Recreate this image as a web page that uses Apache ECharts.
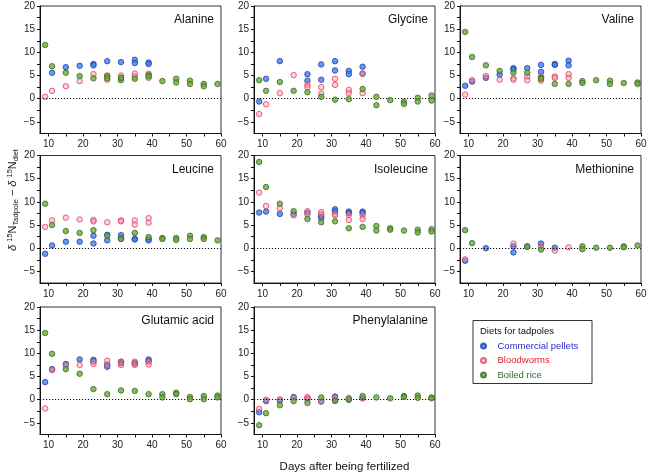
<!DOCTYPE html>
<html><head><meta charset="utf-8">
<script src="https://cdn.jsdelivr.net/npm/echarts@6/dist/echarts.min.js"></script>
<style>html,body{margin:0;padding:0;background:#fff}#c{width:650px;height:475px}</style>
</head><body><div id="c"></div>
<script>
// ---- data: [day, δ15N(tadpole) − δ15N(diet)] ----
const panelNames = ['Alanine','Glycine','Valine','Leucine','Isoleucine','Methionine','Glutamic acid','Phenylalanine'];
const dietNames = ['Commercial pellets','Bloodworms','Boiled rice'];
const xTickLabels = [10,20,30,40,50,60];
const yTickLabels = [-5,0,5,10,15,20];

const alaninePellets = [[11,5.6],[15,6.8],[19,7.1],[23,7.5],[23,7.2],[27,8.1],[31,7.9],[35,8.4],[35,7.7],[39,7.8],[39,7.5]];
const alanineBlood = [[9,0.4],[11,1.7],[15,2.7],[19,3.8],[23,5.3],[27,5.0],[27,4.1],[31,5.0],[31,4.5],[35,5.4],[35,4.8],[39,5.4],[39,4.5]];
const alanineRice = [[9,11.6],[11,7.0],[15,5.6],[19,4.9],[23,4.4],[27,4.9],[27,4.4],[31,4.0],[31,4.5],[35,4.3],[39,5.1],[39,4.8],[43,3.8],[47,4.3],[47,3.5],[51,3.9],[51,3.2],[55,3.2],[55,2.7],[59,3.2]];

const glycinePellets = [[9,-0.6],[11,4.3],[15,8.1],[23,5.3],[23,3.9],[27,7.4],[27,4.1],[31,8.1],[31,6.1],[35,6.0],[35,5.3],[39,6.9],[39,5.4]];
const glycineBlood = [[9,-3.3],[11,-1.2],[15,1.2],[19,5.1],[23,3.0],[23,2.5],[27,2.5],[27,1.1],[31,4.3],[31,3.0],[35,1.9],[35,1.2],[39,5.4],[39,1.2]];
const glycineRice = [[9,4.0],[11,1.7],[15,3.6],[19,1.7],[23,1.4],[27,0.4],[31,-0.2],[35,-0.1],[39,2.1],[43,0.4],[43,-1.4],[47,-0.3],[51,-0.6],[51,-1.1],[55,0.2],[55,-0.6],[59,0.7],[59,-0.4]];

const valinePellets = [[9,2.8],[11,3.7],[15,4.5],[19,5.2],[23,6.6],[23,6.3],[27,6.6],[31,7.3],[31,5.8],[35,7.5],[35,7.3],[39,8.2],[39,7.2]];
const valineBlood = [[9,0.9],[11,4.0],[15,4.9],[19,4.1],[23,4.4],[23,4.1],[27,4.8],[27,4.0],[31,4.8],[31,3.9],[35,4.8],[35,4.5],[39,5.3],[39,4.5]];
const valineRice = [[9,14.4],[11,9.0],[15,7.2],[19,6.0],[23,5.6],[27,5.6],[31,4.5],[31,4.3],[35,3.2],[39,3.2],[43,3.8],[43,3.4],[47,4.0],[51,3.9],[51,3.2],[55,3.4],[59,3.5],[59,3.2]];

const leucinePellets = [[9,-1.2],[11,0.6],[15,1.4],[19,1.4],[23,2.7],[23,1.0],[27,2.9],[27,1.7],[31,2.8],[31,2.1],[35,2.0],[35,1.9],[39,1.9],[39,1.7]];
const leucineBlood = [[9,4.6],[11,6.0],[15,6.6],[19,6.2],[23,6.1],[23,5.8],[27,5.6],[31,6.0],[31,5.8],[35,6.0],[35,5.1],[39,6.5],[39,5.5]];
const leucineRice = [[9,9.6],[11,5.0],[15,3.7],[19,3.3],[23,3.9],[27,2.7],[31,2.0],[35,3.3],[39,2.4],[43,2.2],[43,2.0],[47,2.2],[47,1.8],[51,2.7],[51,2.0],[55,2.4],[55,2.0],[59,1.7]];

const isoleucinePellets = [[9,7.7],[11,7.9],[15,7.4],[19,7.4],[23,7.7],[27,6.9],[27,6.5],[31,8.4],[31,7.9],[35,7.9],[35,7.6],[39,7.9],[39,7.6]];
const isoleucineBlood = [[9,12.0],[11,9.1],[15,8.6],[19,7.1],[23,8.0],[23,7.3],[27,7.8],[27,7.3],[31,7.4],[31,7.1],[35,7.2],[35,6.1],[39,7.1],[39,6.3]];
const isoleucineRice = [[9,18.6],[11,13.2],[15,9.6],[19,8.0],[23,6.3],[27,5.6],[31,5.8],[35,4.3],[39,4.6],[43,4.8],[43,3.8],[47,4.3],[47,4.0],[51,3.8],[55,4.0],[55,3.4],[59,4.1],[59,3.6]];

const methioninePellets = [[9,-2.7],[15,0.0],[23,0.4],[23,-0.9],[27,0.4],[31,1.0],[35,0.1]];
const methionineBlood = [[9,-2.4],[23,1.0],[31,0.3],[35,-0.5],[39,0.2]];
const methionineRice = [[9,3.9],[11,1.1],[27,0.3],[31,-0.3],[43,0.4],[43,-0.2],[47,0.1],[51,0.1],[55,0.4],[55,0.2],[59,0.6]];

const glutamicPellets = [[9,3.8],[11,6.6],[15,7.7],[19,8.7],[23,8.6],[23,8.3],[27,7.6],[27,7.1],[31,8.2],[31,7.9],[35,8.0],[35,7.8],[39,8.7],[39,8.3]];
const glutamicBlood = [[9,-1.9],[11,6.4],[15,7.4],[19,7.5],[23,8.2],[23,7.7],[27,8.4],[27,7.4],[31,8.2],[31,7.5],[35,8.2],[35,7.5],[39,8.2],[39,7.6]];
const glutamicRice = [[9,14.4],[11,9.9],[15,6.6],[19,5.6],[23,2.3],[27,1.2],[31,2.0],[35,1.9],[39,1.2],[43,1.2],[43,0.5],[47,1.5],[47,1.2],[51,0.6],[51,0.1],[55,0.8],[55,0.1],[59,0.9],[59,0.5]];

const phenylalaninePellets = [[9,-2.7],[11,-0.3],[15,-0.2],[19,0.6],[23,0.2],[27,-0.4],[31,0.7],[31,-0.2],[35,0.0],[39,0.4]];
const phenylalanineBlood = [[9,-2.0],[11,0.0],[15,0.1],[19,0.4],[23,0.6],[23,0.2],[27,-0.3],[31,0.4],[35,0.4],[39,0.3]];
const phenylalanineRice = [[9,-5.5],[11,-2.9],[15,-1.2],[19,-0.3],[23,-0.7],[27,0.5],[31,-0.2],[35,0.1],[39,0.8],[43,0.5],[47,0.3],[51,0.8],[51,0.6],[55,0.9],[55,0.4],[59,0.5],[59,0.3]];

const panelData = [
  [alaninePellets, alanineBlood, alanineRice],
  [glycinePellets, glycineBlood, glycineRice],
  [valinePellets, valineBlood, valineRice],
  [leucinePellets, leucineBlood, leucineRice],
  [isoleucinePellets, isoleucineBlood, isoleucineRice],
  [methioninePellets, methionineBlood, methionineRice],
  [glutamicPellets, glutamicBlood, glutamicRice],
  [phenylalaninePellets, phenylalanineBlood, phenylalanineRice]
];

// ---- styling / layout ----
const FONT = '"Liberation Sans", Arial, Helvetica, sans-serif';
const colLeft = [40, 254, 460];
const rowTop = [6, 155.5, 307];
const gW = 181, gH = 127.5;
const markerStyles = [
  {color:'#3f7ff0', borderColor:'#1d3fa8', borderWidth:1},
  {color:'rgba(246,150,170,0.55)', borderColor:'#e2405e', borderWidth:1},
  {color:'#6aa83e', borderColor:'#3b6b1c', borderWidth:1}
];
const legendTextColors = ['#2a2ad2','#e01e2e','#2f6a2a'];

const grids=[], xAxes=[], yAxes=[], series=[], titles=[];
const minus = v => v < 0 ? '\u2212' + Math.abs(v) : String(v);
panelNames.forEach((name, i) => {
  const r = Math.floor(i/3), c = i%3;
  grids.push({left: colLeft[c], top: rowTop[r], width: gW, height: gH, show:true, borderColor:'#333', borderWidth:1, containLabel:false});
  xAxes.push({gridIndex:i, type:'value', min:7.5, max:60,
    axisLine:{show:true, onZero:false, lineStyle:{color:'#111', width:1}},
    axisTick:{show:true, customValues:[10,15,20,25,30,35,40,45,50,55,60], length:3, lineStyle:{color:'#111'}},
    axisLabel:{customValues:xTickLabels, fontSize:10, color:'#222', fontFamily:FONT, margin:6},
    splitLine:{show:false}});
  yAxes.push({gridIndex:i, type:'value', min:-7.5, max:20,
    axisLine:{show:true, onZero:false, lineStyle:{color:'#111', width:1}},
    axisTick:{show:true, customValues:[-5,-2.5,0,2.5,5,7.5,10,12.5,15,17.5,20], length:3, lineStyle:{color:'#111'}},
    axisLabel:{customValues:yTickLabels, fontSize:10, color:'#222', fontFamily:FONT, margin:5, formatter: minus},
    splitLine:{show:false}});
  titles.push({text:name, right: 650 - (colLeft[c] + gW - 7), top: rowTop[r] + 8, padding:0,
    textStyle:{fontSize:12, fontWeight:'normal', color:'#111', fontFamily:FONT}});
  panelData[i].forEach((d, k) => {
    const s = {name: dietNames[k], type:'scatter', xAxisIndex:i, yAxisIndex:i, data:d,
      symbol:'circle', symbolSize:5.5, itemStyle: markerStyles[k], z: 3+k};
    if (k === 0) {
      s.markLine = {silent:true, symbol:['none','none'], label:{show:false},
        lineStyle:{color:'#111', type:[1.2,1.8], width:1}, data:[{yAxis:0}], animation:false};
    }
    series.push(s);
  });
});

const chart = echarts.init(document.getElementById('c'));
chart.setOption({
  animation:false,
  backgroundColor:'#fff',
  title: titles,
  grid: grids, xAxis: xAxes, yAxis: yAxes, series: series,
  legend: dietNames.map((n, k) => ({
    data:[n], orient:'vertical', left:480, top: 341 + k*14.5, padding:0,
    itemWidth:18, itemHeight:5, itemGap:0, selectedMode:false,
    textStyle:{fontSize:9.5, color:legendTextColors[k], fontFamily:FONT, padding:[0,0,0,0]}
  })),
  graphic: [
    {type:'rect', shape:{x:473, y:320.5, width:119, height:63}, style:{fill:'none', stroke:'#333', lineWidth:1}, z:-1},
    {type:'text', x:480, y:326, style:{text:'Diets for tadpoles', fontSize:9.5, fill:'#111', fontFamily:FONT}},
    {type:'text', x:344.5, y:467, style:{text:'Days after being fertilized', fontSize:11.5, fill:'#111', fontFamily:FONT, align:'center', verticalAlign:'middle'}},
    {type:'text', x:13, y:200, rotation:Math.PI/2,
      style:{text:'{i|δ} {sup|15}N{sub|Tadpole} − {i|δ} {sup|15}N{sub|diet}', align:'center', verticalAlign:'middle',
        fontSize:11, fill:'#111', fontFamily:FONT,
        rich:{i:{fontStyle:'italic', fontSize:11, fill:'#111', fontFamily:FONT},
              sup:{fontSize:7.5, verticalAlign:'top', padding:[0,0,5,0], fill:'#111', fontFamily:FONT},
              sub:{fontSize:7.5, verticalAlign:'bottom', padding:[6,0,0,0], fill:'#111', fontFamily:FONT}}}}
  ]
});
</script></body></html>
